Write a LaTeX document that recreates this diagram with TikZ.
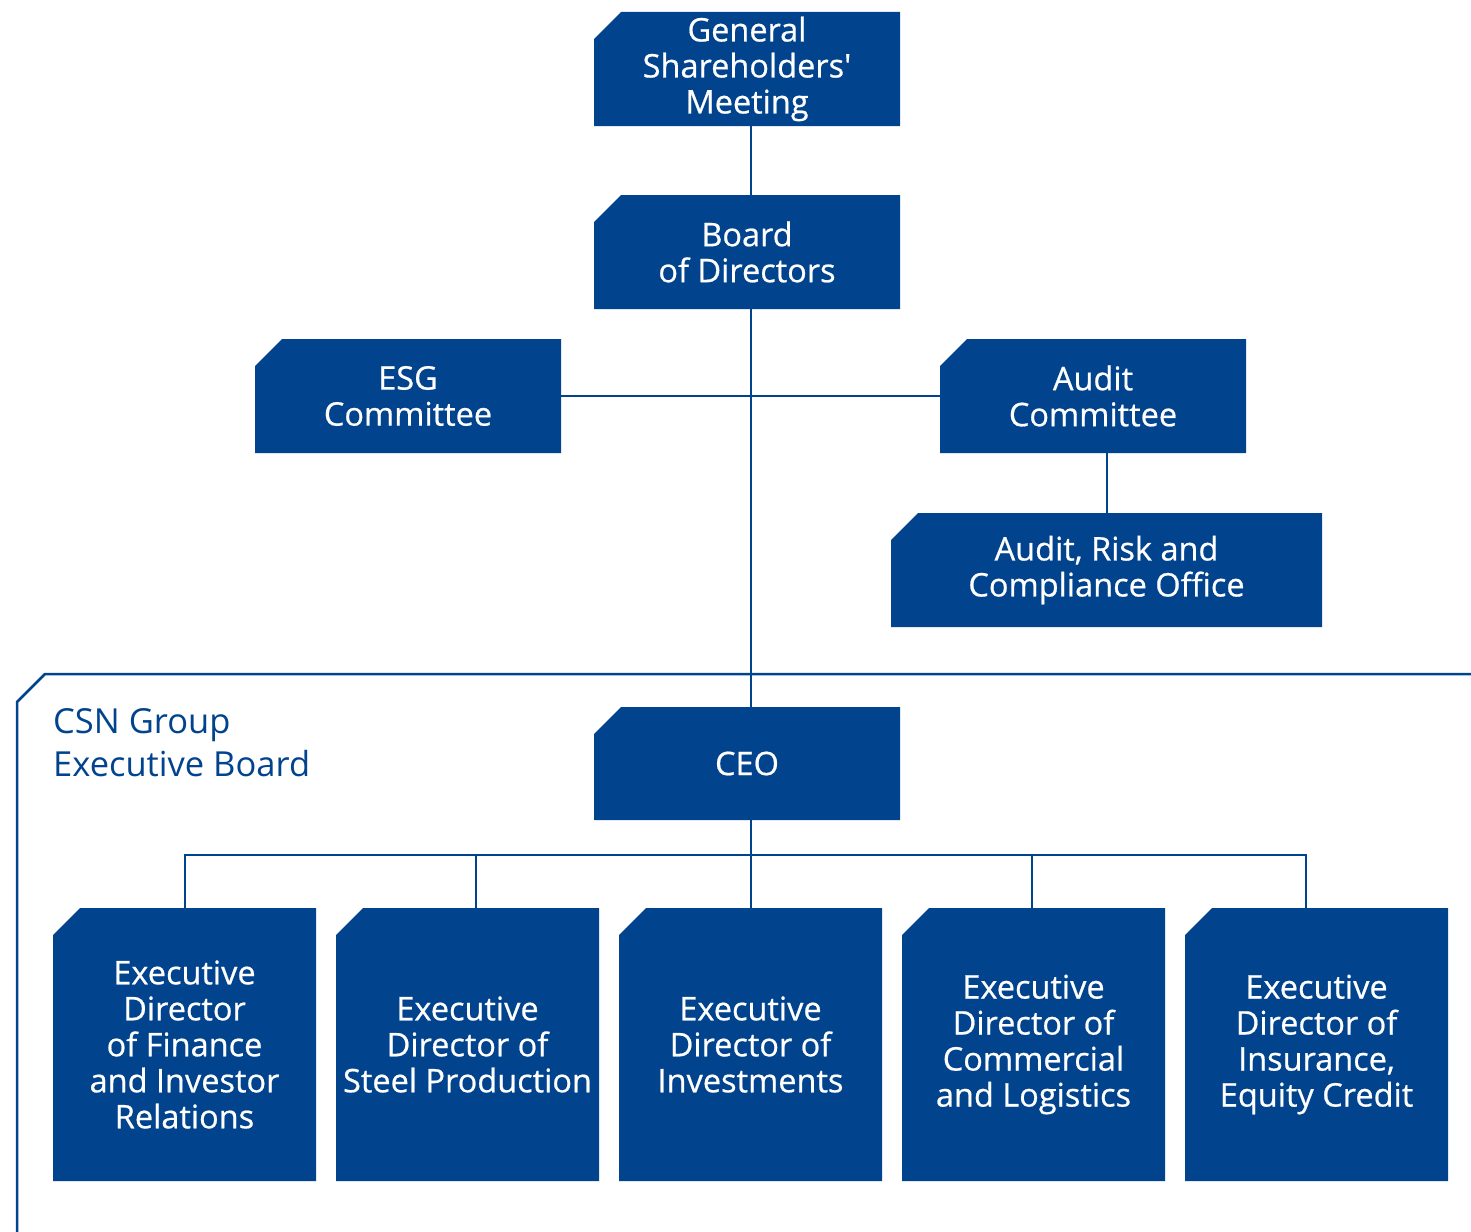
\documentclass[tikz,border=0pt]{standalone}
\usepackage{fontspec}
\setmainfont{Open Sans}
\newfontfamily\boxfont[FakeBold=0.6]{Open Sans}
\definecolor{csnblue}{HTML}{02438E}
\tikzset{
  conn/.style={draw=csnblue, line width=2pt},
}
\newcommand{\chambox}[6]{% name, x1, y1, x2, y2, text
  \fill[csnblue] (#2+27,#3) -- (#4,#3) -- (#4,#5) -- (#2,#5) -- (#2,#3+27) -- cycle;
  \node[text=white, align=center, font=\boxfont\fontsize{32.5}{36}\selectfont, inner sep=0pt,
        minimum width=#4-#2, minimum height=#5-#3] (#1) at ({(#2+#4)/2},{(#3+#5)/2}) {#6};
}
\begin{document}
\begin{tikzpicture}[x=1pt,y=-1pt]
\useasboundingbox (0,0) rectangle (1471,1231);
% frame
\draw[csnblue, line width=2.5pt] (17,1235) -- (17,702) -- (45,674) -- (1475,674);
\node[anchor=north west, text=csnblue, align=left, inner sep=0pt,
      font=\fontsize{34.5}{43}\selectfont] (csn) at (53,708) {CSN Group\\Executive Board};
% boxes
\chambox{gsm}{594}{12}{900}{126}{General\\Shareholders\textquotesingle\\Meeting}
\chambox{board}{594}{195}{900}{309}{Board\\of Directors}
\chambox{esg}{255}{339}{561}{453}{ESG\\Committee}
\chambox{audit}{940}{339}{1246}{453}{Audit\\Committee}
\chambox{arc}{891}{513}{1322}{627}{Audit, Risk and\\Compliance Office}
\chambox{ceo}{594}{707}{900}{820}{CEO}
\chambox{ed1}{53}{908}{316}{1181}{Executive\\Director\\of Finance\\and Investor\\Relations}
\chambox{ed2}{336}{908}{599}{1181}{Executive\\Director of\\Steel Production}
\chambox{ed3}{619}{908}{882}{1181}{Executive\\Director of\\Investments}
\chambox{ed4}{902}{908}{1165}{1181}{Executive\\Director of\\Commercial\\and Logistics}
\chambox{ed5}{1185}{908}{1448}{1181}{Executive\\Director of\\Insurance,\\Equity Credit}
% connectors
\coordinate (bus) at (751,855);
\draw[conn] ([xshift=4]gsm.south) -- ([xshift=4]board.north);
\draw[conn] ([xshift=4]board.south) -- ([xshift=4]ceo.north);
\draw[conn] (esg.east) -- (audit.west);
\draw[conn] ([yshift=4]audit.south -| arc.north) -- (arc.north);
\draw[conn] ([xshift=4]ceo.south) -- (bus);
\draw[conn] ([xshift=0.5]ed1.north) |- (bus);
\draw[conn] ([xshift=8.5]ed2.north) |- (bus);
\draw[conn] ([xshift=0.5]ed3.north) -- (bus);
\draw[conn] ([xshift=-1.5]ed4.north) |- (bus);
\draw[conn] ([xshift=-10.5]ed5.north) |- (bus);
\end{tikzpicture}
\end{document}
